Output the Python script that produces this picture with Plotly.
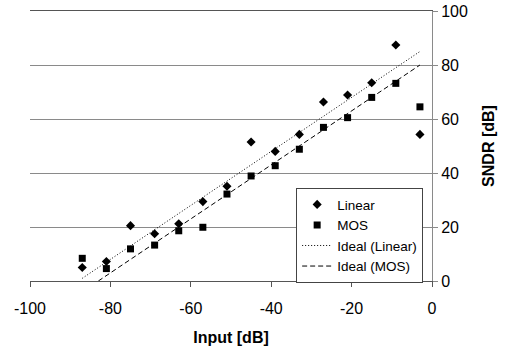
import plotly.graph_objects as go

input_db = [-87, -81, -75, -69, -63, -57, -51, -45, -39, -33, -27, -21, -15, -9, -3]
sndr_linear = [5.0, 7.2, 20.5, 17.5, 21.2, 29.4, 35.1, 51.5, 48.0, 54.3, 66.3, 68.9, 73.4, 87.4, 54.3]
sndr_mos = [8.4, 4.6, 11.9, 13.3, 18.6, 19.9, 32.2, 38.9, 42.7, 48.8, 56.9, 60.5, 68.0, 73.2, 64.5]
ideal_linear_x = [-87, -3]
ideal_linear_y = [1, 85]
ideal_mos_x = [-83, -3]
ideal_mos_y = [0, 80]
x_ticks = [-100, -80, -60, -40, -20, 0]
x_tick_labels = ["-100", "-80", "-60", "-40", "-20", "0"]
y_ticks = [0, 20, 40, 60, 80, 100]
y_tick_labels = ["0", "20", "40", "60", "80", "100"]

font = "Arial, Liberation Sans, sans-serif"

fig = go.Figure()
fig.add_trace(go.Scatter(x=input_db, y=sndr_linear, mode="markers", name="Linear",
                         marker=dict(symbol="diamond", size=7, color="black")))
fig.add_trace(go.Scatter(x=input_db, y=sndr_mos, mode="markers", name="MOS",
                         marker=dict(symbol="square", size=7, color="black")))
fig.add_trace(go.Scatter(x=ideal_linear_x, y=ideal_linear_y, mode="lines", name="Ideal (Linear)",
                         line=dict(color="black", width=1, dash="1px,2px")))
fig.add_trace(go.Scatter(x=ideal_mos_x, y=ideal_mos_y, mode="lines", name="Ideal (MOS)",
                         line=dict(color="black", width=1, dash="5px,3px")))

fig.update_layout(
    width=507, height=349,
    margin=dict(l=30, r=75, t=11, b=68),
    paper_bgcolor="white", plot_bgcolor="white",
    font=dict(family=font, size=16, color="black"),
    showlegend=True,
    legend=dict(x=0.978, y=0.344, xanchor="right", yanchor="top",
                bgcolor="white", bordercolor="#444", borderwidth=1,
                font=dict(size=13.5), tracegroupgap=0),
    xaxis=dict(range=[-100, 0], tickvals=x_ticks, ticktext=x_tick_labels,
               showgrid=False, zeroline=False, automargin=False, mirror=True,
               showline=True, linecolor="#555", linewidth=1,
               ticks="outside", ticklen=5, tickcolor="#555", ticklabelstandoff=8,
               title=dict(text="<b>Input [dB]</b>", font=dict(size=16))),
    yaxis=dict(range=[0, 100], tickvals=y_ticks, ticktext=y_tick_labels, side="right",
               showgrid=True, automargin=False, ticklabeloverflow="allow",
               gridcolor="#8a8a8a", gridwidth=1, zeroline=False,
               showline=True, linecolor="#8a8a8a", linewidth=1,
               ticks="outside", ticklen=5, tickcolor="#8a8a8a",
               title=dict(text="<b>SNDR [dB]</b>", font=dict(size=16))),
)

fig.write_html("out.html", config={"displayModeBar": False},
               post_script="document.body.style.margin='0';")
